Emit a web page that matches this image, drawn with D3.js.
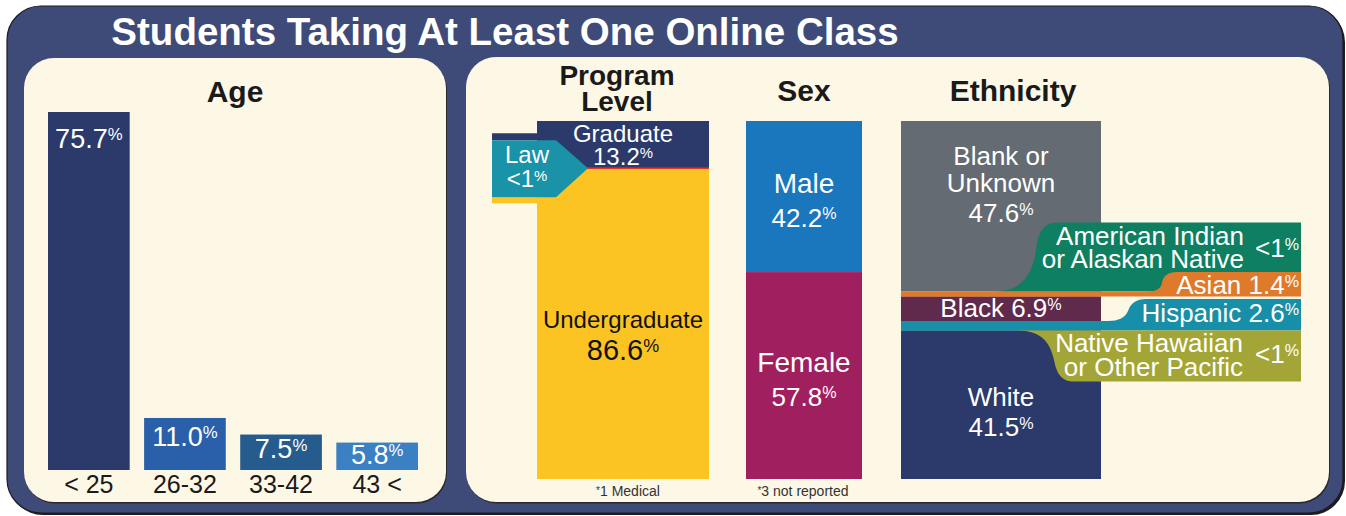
<!DOCTYPE html>
<html>
<head>
<meta charset="utf-8">
<script src="https://cdn.jsdelivr.net/npm/d3@7"></script>
<style>
    body { margin: 0; background: #ffffff; }
    svg { display: block; }
    text { font-family: "Liberation Sans", Arial, Helvetica, sans-serif; }
</style>
</head>
<body>
<div id="chart"></div>
<script>
'use strict';

const title = 'Students Taking At Least One Online Class';

const ageGroups = ['< 25', '26-32', '33-42', '43 <'];
const ageValues = [75.7, 11.0, 7.5, 5.8];

const programLevels = ['Graduate', 'Undergraduate'];
const programValues = [13.2, 86.6];
const lawValue = 0.2;            // shown as "<1%"
const programNote = '1 Medical';

const sexes = ['Male', 'Female'];
const sexValues = [42.2, 57.8];
const sexNote = '3 not reported';

const ethnicities = ['Blank or Unknown', 'American Indian or Alaskan Native', 'Asian', 'Black',
    'Hispanic', 'Native Hawaiian or Other Pacific', 'White'];
const ethValues = [47.6, 0, 1.4, 6.9, 2.6, 0, 41.5];

const W = 1346, H = 516;
const fmt = v => v < 1 ? '<1' : v.toFixed(1);

let svg = d3.select('#chart').append('svg')
    .attr('width', W)
    .attr('height', H)
;

// frame + panels
svg.append('rect').attr('x', 9).attr('y', 8).attr('width', 1336).attr('height', 507).attr('rx', 34).attr('fill', '#1c1c22');
svg.append('rect').attr('x', 7).attr('y', 6).attr('width', 1336).attr('height', 507).attr('rx', 34)
    .attr('fill', '#3e4a77').attr('stroke', '#1c1c22').attr('stroke-width', 1.2);

function panel(x, y, w, h) {
    svg.append('rect').attr('x', x + 1).attr('y', y + 1.5).attr('width', w).attr('height', h).attr('rx', 30).attr('fill', '#2a2a2a');
    svg.append('rect').attr('x', x).attr('y', y).attr('width', w).attr('height', h).attr('rx', 30).attr('fill', '#fdf7e6');
}
panel(24, 58, 422, 444);
panel(466, 57, 863, 445);

svg.append('text')
    .attr('x', 505).attr('y', 45)
    .attr('text-anchor', 'middle')
    .attr('font-size', 38.5)
    .attr('font-weight', 'bold')
    .attr('fill', '#ffffff')
    .text(title)
;

function heading(x, y, str, size) {
    svg.append('text').attr('x', x).attr('y', y).attr('text-anchor', 'middle')
        .attr('font-size', size || 30).attr('font-weight', 'bold').attr('fill', '#1a1a1a').text(str);
}

function label(x, y, str, size, color, anchor) {
    return svg.append('text').attr('x', x).attr('y', y)
        .attr('text-anchor', anchor || 'middle')
        .attr('font-size', size).attr('fill', color || '#ffffff')
        .text(str);
}

// number with a small raised "%"
function valueLabel(x, y, v, size, color, anchor, prefix) {
    let t = svg.append('text').attr('x', x).attr('y', y)
        .attr('text-anchor', anchor || 'middle')
        .attr('font-size', size).attr('fill', color || '#ffffff');
    t.append('tspan').text((prefix || '') + fmt(v));
    t.append('tspan').attr('font-size', size * 0.62).attr('dy', -size * 0.28).text('%');
    return t;
}

function footnote(x, y, str) {
    let t = svg.append('text').attr('x', x).attr('y', y).attr('text-anchor', 'middle')
        .attr('font-size', 14).attr('fill', '#333333');
    t.append('tspan').attr('font-size', 10).attr('dy', -2).text('*');
    t.append('tspan').attr('dy', 2).text(str);
}

// ---- Age ----
heading(235, 102, 'Age');

let ageColors = ['#2b3a6b', '#2a60a9', '#255b8d', '#3b80c3'];
let ageX = d3.scaleBand().domain(ageGroups).range([48, 418]).paddingInner(0.15);
let ageY = d3.scaleLinear().domain([0, d3.max(ageValues)]).range([470, 112]);

svg.append('g').selectAll('rect').data(ageGroups).enter()
    .append('rect')
    .attr('x', d => ageX(d))
    .attr('y', (d, i) => ageY(ageValues[i]))
    .attr('width', ageX.bandwidth())
    .attr('height', (d, i) => ageY(0) - ageY(ageValues[i]))
    .attr('fill', (d, i) => ageColors[i])
;

ageGroups.forEach(function (g, i) {
    let cx = ageX(g) + ageX.bandwidth() / 2;
    let barTop = ageY(ageValues[i]);
    let h = ageY(0) - barTop;
    valueLabel(cx, barTop + Math.min(36, 14 + h * 0.27), ageValues[i], 27);
    label(cx, 493, g, 25, '#1a1a1a');
});

// ---- stacked columns ----
let stackY = d3.scaleLinear().domain([0, 100]).range([121, 479]);

// Program level
heading(617, 85, 'Program', 28);
heading(617, 111, 'Level', 28);

let progX0 = 537, progX1 = 709, progCx = (progX0 + progX1) / 2;
let progColors = ['#2b3a6b', '#fcc422'];
let progStarts = [0].concat(Array.from(d3.cumsum(programValues)));

svg.append('g').selectAll('rect').data(programLevels).enter()
    .append('rect')
    .attr('x', progX0)
    .attr('y', (d, i) => stackY(progStarts[i]))
    .attr('width', progX1 - progX0)
    .attr('height', (d, i) => i === programLevels.length - 1 ? stackY(100) - stackY(progStarts[i]) : stackY(progStarts[i + 1]) - stackY(progStarts[i]))
    .attr('fill', (d, i) => progColors[i])
;

let yB = stackY(programValues[0]);
// medical sliver
svg.append('line').attr('x1', progX0).attr('x2', progX1).attr('y1', yB).attr('y2', yB)
    .attr('stroke', '#e8362b').attr('stroke-width', 1.5);

// law callout
svg.append('rect').attr('x', 492).attr('y', yB - 35).attr('width', progX0 - 492).attr('height', 7).attr('fill', progColors[0]);
svg.append('rect').attr('x', 492).attr('y', yB + 29).attr('width', progX0 - 492).attr('height', 6).attr('fill', progColors[1]);
svg.append('path')
    .attr('d', `M492,${yB - 28} L556,${yB - 28} L588,${yB} L556,${yB + 29} L492,${yB + 29} Z`)
    .attr('fill', '#1a92a8')
;
label(527, yB - 5, 'Law', 24);
valueLabel(527, yB + 19, lawValue, 24);

label(progCx, stackY(0) + 21, programLevels[0], 24);
valueLabel(progCx, stackY(0) + 44, programValues[0], 24);
let ugMid = (stackY(progStarts[1]) + stackY(100)) / 2;
label(progCx, ugMid + 4, programLevels[1], 24, '#111111');
valueLabel(progCx, ugMid + 36, programValues[1], 29, '#111111');

footnote(628, 496, programNote);

// Sex
heading(804, 101, 'Sex');

let sexX0 = 746, sexX1 = 862, sexCx = (sexX0 + sexX1) / 2;
let sexColors = ['#1a76bd', '#a01f5f'];
let sexStarts = [0].concat(Array.from(d3.cumsum(sexValues)));

svg.append('g').selectAll('rect').data(sexes).enter()
    .append('rect')
    .attr('x', sexX0)
    .attr('y', (d, i) => stackY(sexStarts[i]))
    .attr('width', sexX1 - sexX0)
    .attr('height', (d, i) => stackY(sexStarts[i + 1]) - stackY(sexStarts[i]))
    .attr('fill', (d, i) => sexColors[i])
;

sexes.forEach(function (s, i) {
    let mid = (stackY(sexStarts[i]) + stackY(sexStarts[i + 1])) / 2;
    label(sexCx, mid - 4, s, 28);
    valueLabel(sexCx, mid + 30, sexValues[i], 26);
});

footnote(803, 496, sexNote);

// Ethnicity
heading(1013, 101, 'Ethnicity');

let ethX0 = 901, ethX1 = 1101, ethRight = 1301, ethCx = 1001;
let ethColors = ['#656b72', '#0e7f60', '#e07a2b', '#5f2a4b', '#178fa8', '#a3a636', '#2b3a6b'];
let ethY = d3.scaleLinear().domain([0, d3.sum(ethValues)]).range([121, 479]);
let ethStarts = [0].concat(Array.from(d3.cumsum(ethValues)));

svg.append('g').selectAll('rect').data(ethnicities).enter()
    .append('rect')
    .attr('x', ethX0)
    .attr('y', (d, i) => ethY(ethStarts[i]))
    .attr('width', ethX1 - ethX0)
    .attr('height', (d, i) => ethY(ethStarts[i + 1]) - ethY(ethStarts[i]))
    .attr('fill', (d, i) => ethColors[i])
;

let b = ethY(ethStarts[1]);
let a0 = ethY(ethStarts[2]), a1 = ethY(ethStarts[3]);
let h0 = ethY(ethStarts[4]), h1 = ethY(ethStarts[5]);
let w0 = ethY(ethStarts[5]);

// callout ribbons
svg.append('path')
    .attr('d', `M995,${b} C1022,${b} 1033,${b - 18} 1036,${b - 42} Q1039,${b - 69} 1056,${b - 69} L${ethRight},${b - 69} L${ethRight},${b} Z`)
    .attr('fill', ethColors[1]);
svg.append('path')
    .attr('d', `M${ethX0},${a0} L1147,${a0} Q1161,${a0} 1162,${a0 - 9} Q1164,${a0 - 19.5} 1177,${a0 - 19.5} L${ethRight},${a0 - 19.5} L${ethRight},${a1} L${ethX0},${a1} Z`)
    .attr('fill', ethColors[2]);
svg.append('path')
    .attr('d', `M${ethX0},${h0} L1108,${h0} Q1124,${h0} 1128,${h0 - 10} Q1132,${h0 - 22} 1146,${h0 - 22} L${ethRight},${h0 - 22} L${ethRight},${h1} L${ethX0},${h1} Z`)
    .attr('fill', ethColors[4]);
svg.append('path')
    .attr('d', `M1017,${w0} C1042,${w0} 1051,${w0 + 12} 1055,${w0 + 34} Q1059,${w0 + 51} 1073,${w0 + 51} L${ethRight},${w0 + 51} L${ethRight},${w0} Z`)
    .attr('fill', ethColors[5]);

let ethTop = ethY(0);
label(ethCx, ethTop + 44, 'Blank or', 26);
label(ethCx, ethTop + 71, 'Unknown', 26);
valueLabel(ethCx, ethTop + 101, ethValues[0], 26);

label(1244, b - 46, 'American Indian', 26, '#ffffff', 'end');
label(1244, b - 23, 'or Alaskan Native', 26, '#ffffff', 'end');
valueLabel(1299, b - 34, ethValues[1], 26, '#ffffff', 'end');

valueLabel(1299, a1 - 2.5, ethValues[2], 26, '#ffffff', 'end', 'Asian ');
valueLabel(ethCx, h0 - 4, ethValues[3], 26, '#ffffff', 'middle', 'Black ');
valueLabel(1299, h0 + 1, ethValues[4], 26, '#ffffff', 'end', 'Hispanic ');

label(1243, w0 + 22, 'Native Hawaiian', 26, '#ffffff', 'end');
label(1243, w0 + 46, 'or Other Pacific', 26, '#ffffff', 'end');
valueLabel(1299, w0 + 33, ethValues[5], 26, '#ffffff', 'end');

label(ethCx, w0 + 76, 'White', 26);
valueLabel(ethCx, w0 + 106, ethValues[6], 26);
</script>
</body>
</html>
